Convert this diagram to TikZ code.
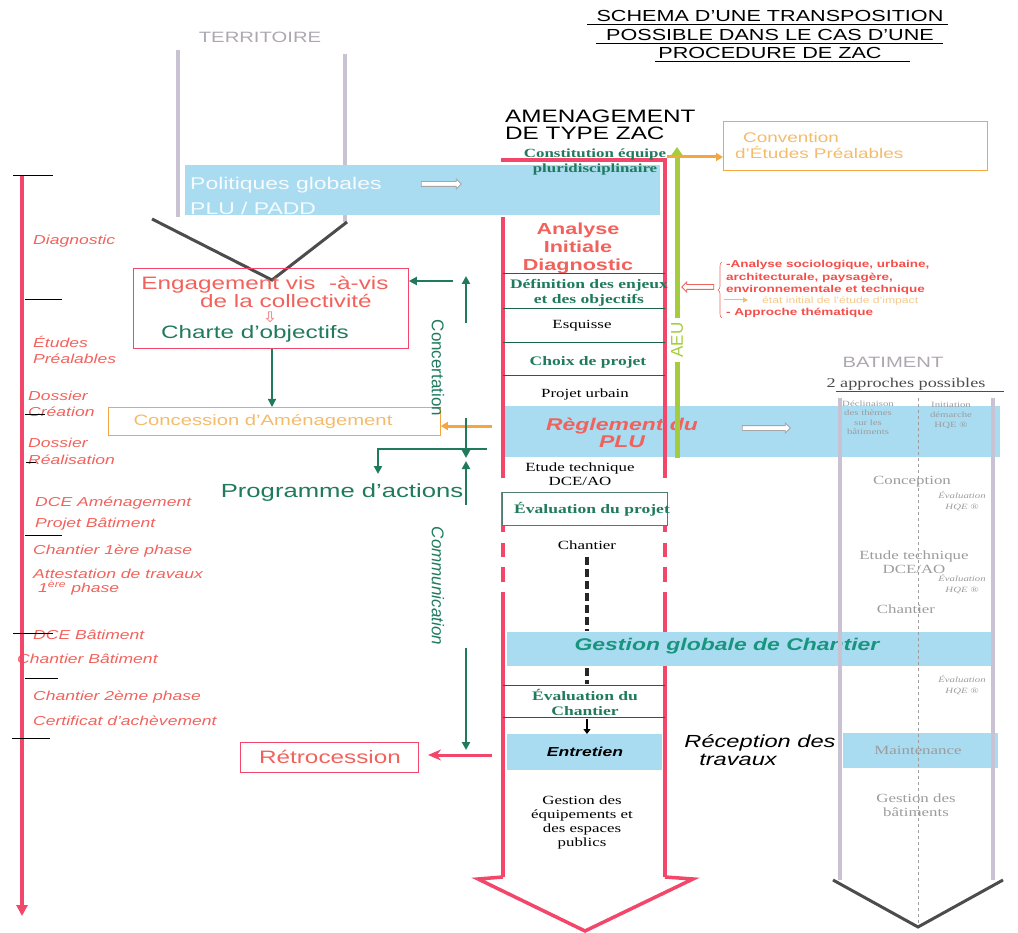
\documentclass[tikz,border=0pt]{standalone}
\usepackage{fontspec}
\usepackage{graphicx}
\setmainfont{Liberation Sans}
\newfontfamily\timesfont{Liberation Serif}
\usetikzlibrary{arrows.meta, positioning, calc, shapes.arrows, decorations.pathreplacing}
\definecolor{railred}{HTML}{F2476A}
\definecolor{bandblue}{HTML}{A9DCF1}
\definecolor{darkgreen}{HTML}{1F7A5E}
\definecolor{arrorange}{HTML}{F4A640}
\definecolor{paleorange}{HTML}{F3BB6C}
\definecolor{aeugreen}{HTML}{A4CC3C}
\definecolor{salmonred}{HTML}{F2625C}
\definecolor{lavgray}{HTML}{C9C2D2}
\definecolor{fadegray}{HTML}{9C9C9C}
\newcommand{\fs}[2]{\fontsize{#1}{#2}\selectfont}
\newcommand{\wide}[1]{\scalebox{1.35}[1]{#1}}
\tikzset{
  band/.style={fill=bandblue, draw=none, inner sep=0pt, anchor=north west},
  rail/.style={draw=railred, line width=3.5pt},
  batrail/.style={draw=lavgray, line width=4pt},
  sepline/.style={draw=darkgreen!80!black, line width=0.6pt},
  phase/.style={font=\itshape\fs{13}{13}, text=salmonred, anchor=west, inner sep=0pt},
  tickmark/.style={draw=black, line width=0.8pt},
  etape/.style={font=\timesfont\fs{12.5}{14}, align=center, inner sep=0pt},
  etapeg/.style={font=\timesfont\bfseries\fs{13}{15}, text=darkgreen, align=center, inner sep=0pt},
  batxt/.style={font=\timesfont\fs{12.5}{14}, text=fadegray, align=center, inner sep=0pt},
  hqe/.style={font=\timesfont\itshape\fs{8}{11}, text=fadegray, align=center, inner sep=0pt},
  note/.style={font=\bfseries\fs{10}{10}, text=salmonred!80!red, anchor=west, inner sep=0pt},
  gflow/.style={-{Triangle[length=8pt, width=8pt]}, draw=darkgreen, line width=2pt},
  oflow/.style={-{Triangle[length=7pt, width=8pt]}, draw=arrorange, line width=3pt},
  hollow/.style={single arrow, draw=#1, fill=white, line width=0.8pt, minimum height=40pt,
                 single arrow head extend=2.5pt, inner sep=2pt},
  hollow/.default=gray,
}

\begin{document}
\begin{tikzpicture}[x=1pt, y=-1pt]
  \useasboundingbox (0,0) rectangle (1018,933);
  % titre
  \foreach \y/\a/\b/\txt in {16/587/948/{SCHEMA D'UNE TRANSPOSITION},
                             35/596/943/{POSSIBLE DANS LE CAS D'UNE},
                             53/655/910/{PROCEDURE DE ZAC}}{
    \node[font=\fs{16}{16}, inner sep=0pt] (titre\y) at (770,\y) {\wide{\txt}};
    \draw[line width=0.8pt] (\a,\y+8) -- (\b,\y+8);
  }

  % frise chronologique
  \foreach \y/\x/\txt in {241/33/Diagnostic, 342/33/Études, 359/33/Préalables,
                          396/28/Dossier, 412/28/Création, 443/28/Dossier, 460/28/Réalisation,
                          503/35/DCE Aménagement, 524/35/Projet Bâtiment, 551/33/Chantier 1ère phase,
                          574/33/Attestation de travaux, 635/33/DCE Bâtiment, 659/17/Chantier Bâtiment,
                          697/33/Chantier 2ème phase, 721/33/Certificat d'achèvement}
    \node[phase] (ph\y) at (\x,\y) {\wide{\txt}};
  \node[phase] (ph588) at (38,588) {\wide{1\textsuperscript{ère} phase}};
  \coordinate (tltop) at (22,175);
  \coordinate (tlbot) at (22,916);
  \draw[draw=railred, line width=3.5pt, -{Triangle[length=11pt, width=11pt]}] (tltop) -- (tlbot);
  \foreach \y/\a/\b in {175/13/53, 299/25/62, 414/25/45, 462/26/36, 535/25/62, 633/13/53, 678/25/58, 738/12/50}
    \draw[tickmark] (\a,\y) -- (\b,\y);

  % territoire
  \node[font=\fs{15}{15}, text=lavgray!60!gray, inner sep=0pt] (terr) at (260,37) {\wide{TERRITOIRE}};
  \draw[batrail] (178,50) -- (178,217);
  \draw[batrail] (345,54) -- (345,222);
  \coordinate (vpt) at (272,280);
  \draw[draw=gray!60!black, line width=3pt] (152,219) -- (vpt) -- (347,222);

  % colonne ZAC
  \node[band, minimum width=495pt, minimum height=51pt] (regl) at (505,406) {};
  \foreach \x in {503,665}{
    \draw[rail] (\x,492) -- (\x,532);
    \draw[rail] (\x,543) -- (\x,557);
    \draw[rail] (\x,567) -- (\x,582);
    \draw[rail] (\x,592) -- (\x,877);
  }
  \draw[rail] (503,217) -- (503,478);
  \draw[rail] (665,160) -- (665,478);
  \draw[rail] (501.25,160) -- (666.75,160);
  \draw[rail, line join=miter] (503,877) -- (478,879) -- (585,931) -- (693,879) -- (665,877);
  \node[band, minimum width=475pt, minimum height=50pt] (polit) at (185,165) {};
  \node[band, minimum width=488pt, minimum height=34pt] (gest) at (507,632) {};
  \node[band, minimum width=155pt, minimum height=36pt] (entr) at (507,734) {};
  \node[band, minimum width=155pt, minimum height=35pt] (maint) at (843,733) {};

  \node[font=\fs{17}{25}, text=white!90!bandblue, align=left, anchor=west, inner sep=0pt] (poltxt) at (190,196)
    {\wide{Politiques globales}\\\wide{PLU / PADD}};
  \node[hollow=gray!70] (polarr) at (440,184) {};

  \node[font=\fs{18}{17}, anchor=west, inner sep=0pt] (amen1) at (505,116) {\wide{AMENAGEMENT}};
  \node[font=\fs{18}{17}, anchor=west, inner sep=0pt] (amen2) at (505,133) {\wide{DE TYPE ZAC}};
  \node[etapeg, font=\timesfont\bfseries\fs{12.5}{15}] (constit) at (595,162)
    {\wide{Constitution équipe}\\\wide{pluridisciplinaire}};
  \node[font=\bfseries\fs{16}{18}, text=salmonred, align=center, inner sep=0pt] (analyse) at (578,248)
    {\wide{Analyse}\\\wide{Initiale}\\\wide{Diagnostic}};
  \foreach \y in {273,308,342,375,685,717}
    \draw[sepline] (503,\y) -- (665,\y);
  \node[etapeg] (defin) at (589,293) {\wide{Définition des enjeux}\\\wide{et des objectifs}};
  \node[etape] (esq) at (582,326) {\wide{Esquisse}};
  \node[etapeg] (choix) at (588,362) {\wide{Choix de projet}};
  \node[etape] (purb) at (585,394) {\wide{Projet urbain}};
  \node[font=\bfseries\itshape\fs{17}{17}, text=salmonred, align=center, inner sep=0pt] (regltxt) at (622,433)
    {\wide{Règlement du}\\\wide{PLU}};
  \node[hollow=gray!70, minimum height=48pt] (reglarr) at (765,428) {};
  \node[etape] (etude) at (580,474) {\wide{Etude technique}\\\wide{DCE/AO}};
  \node[draw=gray!50!darkgreen, line width=0.8pt, fill=white, minimum width=165pt, minimum height=33pt,
        anchor=north west, inner sep=0pt] (evalp) at (502,492) {};
  \node[etapeg] (evalptxt) at (592,509) {\wide{Évaluation du projet}};
  \node[etape] (chant) at (587,545) {\wide{Chantier}};
  \coordinate (dash1) at (587,557);
  \coordinate (dash2) at (587,631);
  \coordinate (dash3) at (587,668);
  \coordinate (dash4) at (587,684);
  \draw[draw=black!85, line width=4pt, dash pattern=on 8pt off 4pt] (dash1) -- (dash2);
  \draw[draw=black!85, line width=4pt, dash pattern=on 8pt off 4pt] (dash3) -- (dash4);
  \node[font=\bfseries\itshape\fs{17}{17}, text=darkgreen!80!cyan, inner sep=0pt] (gesttxt) at (727,646)
    {\wide{Gestion globale de Chantier}};
  \node[etapeg] (evalc) at (585,702) {\wide{Évaluation du}\\\wide{Chantier}};
  \coordinate (ent1) at (587,719);
  \coordinate (ent2) at (587,734);
  \draw[-{Triangle[length=5pt, width=7pt]}, line width=2pt] (ent1) -- (ent2);
  \node[font=\bfseries\itshape\fs{13}{13}, inner sep=0pt] (entrtxt) at (585,752) {\wide{Entretien}};
  \node[etape] (gequip) at (582,822)
    {\wide{Gestion des}\\\wide{équipements et}\\\wide{des espaces}\\\wide{publics}};
  \node[font=\itshape\fs{17.5}{17}, inner sep=0pt] (recep1) at (760,743) {\wide{Réception des}};
  \node[font=\itshape\fs{17.5}{17}, inner sep=0pt] (recep2) at (738,760) {\wide{travaux}};

  % AEU
  \coordinate (aeutop) at (677,147);
  \coordinate (aeua) at (677,318);
  \coordinate (aeub) at (677,362);
  \coordinate (aeubot) at (677,458);
  \draw[draw=aeugreen, line width=5pt, -{Triangle[length=9pt, width=12pt]}] (aeua) -- (aeutop);
  \draw[draw=aeugreen, line width=5pt] (aeub) -- (aeubot);
  \node[font=\fs{17}{17}, text=aeugreen, rotate=90, inner sep=0pt] (aeu) at (677,340) {AEU};

  % convention
  \node[draw=arrorange, line width=0.8pt, minimum width=264pt, minimum height=49pt,
        anchor=north west, inner sep=0pt] (conv) at (723,121) {};
  \node[font=\fs{14}{14}, text=paleorange, anchor=west, inner sep=0pt] (conv1) at (743,137) {\wide{Convention}};
  \node[font=\fs{14}{14}, text=paleorange, anchor=west, inner sep=0pt] (conv2) at (735,153) {\wide{d'Études Préalables}};
  \coordinate (convfrom) at (667,157);
  \draw[oflow] (convfrom) -- (conv.west |- convfrom);

  % analyse thematique
  \node[hollow=salmonred, shape border rotate=180, minimum height=32pt] (annarr) at (699,287) {};
  \coordinate (brb) at (722,318);
  \coordinate (brt) at (722,262);
  \draw[draw=salmonred, line width=0.6pt, decorate, decoration={brace, amplitude=4pt}] (brb) -- (brt);
  \node[note] (ann1) at (726,265) {\wide{-Analyse sociologique, urbaine,}};
  \node[note] (ann2) at (726,278) {\wide{architecturale, paysagère,}};
  \node[note] (ann3) at (726,290) {\wide{environnementale et technique}};
  \coordinate (anna) at (724,300);
  \coordinate (annb) at (748,300);
  \draw[-{Triangle[length=5pt, width=5pt]}, draw=paleorange, line width=1pt] (anna) -- (annb);
  \node[font=\fs{9}{9}, text=paleorange!80, anchor=west, inner sep=0pt] (ann4) at (762,301)
    {\wide{état initial de l'étude d'impact}};
  \node[note] (ann5) at (726,313) {\wide{- Approche thématique}};

  % partie gauche
  \node[draw=railred, line width=0.8pt, minimum width=275pt, minimum height=80pt,
        anchor=north west, inner sep=0pt] (engage) at (133,268) {};
  \node[font=\fs{18}{18}, text=salmonred, inner sep=0pt] (eng1) at (265,285) {\wide{Engagement vis\ \ -à-vis}};
  \node[font=\fs{18}{18}, text=salmonred, inner sep=0pt] (eng2) at (286,301) {\wide{de la collectivité}};
  \node[hollow=salmonred!70, shape border rotate=270, minimum height=10pt, inner sep=1pt,
        single arrow head extend=2pt] (engarr) at (270,316) {};
  \node[font=\fs{18}{18}, text=darkgreen, inner sep=0pt] (charte) at (255,334) {\wide{Charte d'objectifs}};
  \node[draw=arrorange, line width=0.8pt, minimum width=332pt, minimum height=28pt,
        anchor=north west, inner sep=0pt] (conces) at (108,407) {};
  \node[font=\fs{15}{15}, text=paleorange, inner sep=0pt] (concestxt) at (263,422) {\wide{Concession d'Aménagement}};
  \draw[gflow, line width=1.3pt] (engage.south -| vpt) -- (conces.north -| vpt);
  \coordinate (orin) at (492,426);
  \draw[oflow] (orin) -- (conces.east |- orin);

  \node[font=\fs{17}{17}, text=darkgreen, rotate=-90, inner sep=0pt] (concert) at (438,368) {Concertation};
  \coordinate (cc1) at (466,323);
  \coordinate (cc2) at (466,276);
  \coordinate (cc3) at (453,281);
  \draw[gflow] (cc1) -- (cc2);
  \draw[gflow] (cc3) -- (engage.east |- cc3);
  \coordinate (cc4) at (466,418);
  \coordinate (cc5) at (466,458);
  \coordinate (cc6) at (487,449);
  \coordinate (cc7) at (378,449);
  \coordinate (cc8) at (378,474);
  \draw[gflow] (cc4) -- (cc5);
  \draw[gflow] (cc6) -- (cc7) -- (cc8);
  \node[font=\fs{19}{19}, text=darkgreen, inner sep=0pt] (progr) at (342,493) {\wide{Programme d'actions}};
  \node[font=\itshape\fs{17}{17}, text=darkgreen, rotate=-90, inner sep=0pt] (commu) at (438,586) {Communication};
  \coordinate (cm1) at (466,505);
  \coordinate (cm2) at (466,461);
  \coordinate (cm3) at (466,648);
  \coordinate (cm4) at (466,750);
  \draw[gflow] (cm1) -- (cm2);
  \draw[gflow] (cm3) -- (cm4);

  \node[draw=railred, line width=1pt, minimum width=178pt, minimum height=30pt,
        anchor=north west, inner sep=0pt] (retro) at (240,742) {};
  \node[font=\fs{18}{18}, text=salmonred, inner sep=0pt] (retrotxt) at (330,757) {\wide{Rétrocession}};
  \coordinate (rt1) at (492,755);
  \coordinate (rt2) at (428,755);
  \draw[draw=railred, line width=3pt, -{Stealth[length=13pt, width=11pt, fill=railred!35]}] (rt1) -- (rt2);

  % batiment
  \node[font=\fs{15}{15}, text=lavgray!60!gray, inner sep=0pt] (bat) at (893,362) {\wide{BATIMENT}};
  \node[font=\timesfont\fs{13.5}{13.5}, text=black!70, inner sep=0pt] (approches) at (906,384) {\wide{2 approches possibles}};
  \draw[line width=0.8pt, black!70] (836,391) -- (1004,391);
  \foreach \x in {840,993}
    \draw[batrail] (\x,398) -- (\x,880);
  \draw[draw=fadegray, line width=1pt, dash pattern=on 3pt off 3pt] (918,398) -- (918,926);
  \draw[draw=gray!60!black, line width=3pt] (833,880) -- (918,927) -- (1003,880);
  \node[font=\timesfont\fs{8}{9.5}, text=fadegray, align=center, inner sep=0pt] (decl) at (868,418)
    {\wide{Déclinaison}\\\wide{des thèmes}\\\wide{sur les}\\\wide{bâtiments}};
  \node[font=\timesfont\fs{8}{10}, text=fadegray, align=center, inner sep=0pt] (initq) at (951,416)
    {\wide{Initiation}\\\wide{démarche}\\\wide{HQE ®}};
  \node[batxt] (bconc) at (912,482) {\wide{Conception}};
  \node[hqe] (hqe1) at (962,501) {\wide{Évaluation}\\\wide{HQE ®}};
  \node[batxt] (betude) at (914,562) {\wide{Etude technique}\\\wide{DCE/AO}};
  \node[hqe] (hqe2) at (962,584) {\wide{Évaluation}\\\wide{HQE ®}};
  \node[batxt] (bchant) at (906,609) {\wide{Chantier}};
  \node[hqe] (hqe3) at (962,685) {\wide{Évaluation}\\\wide{HQE ®}};
  \node[batxt] (mainttxt) at (918,750) {\wide{Maintenance}};
  \node[batxt] (gbat) at (916,805) {\wide{Gestion des}\\\wide{bâtiments}};
\end{tikzpicture}
\end{document}
